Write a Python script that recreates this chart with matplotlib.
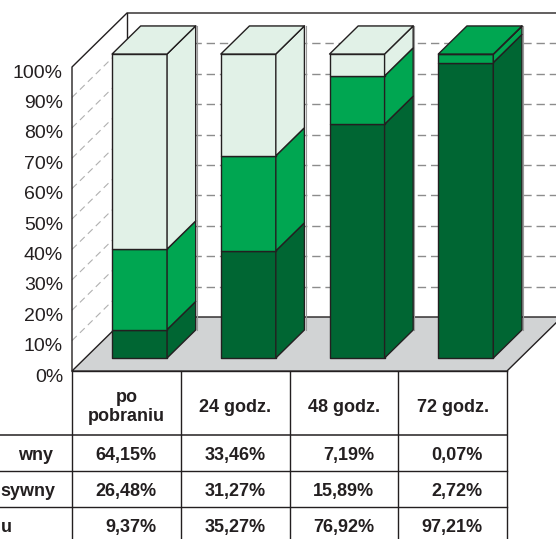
import matplotlib.pyplot as plt
from matplotlib.patches import Polygon

plt.rcParams['font.family'] = ['Liberation Sans', 'DejaVu Sans']

# data (rows of the table, top row = top of the stack)
categories = ["po\npobraniu", "24 godz.", "48 godz.", "72 godz."]
row_labels = ["wny", "sywny", "u"]          # row names, cut off at the left edge
row1 = [64.15, 33.46, 7.19, 0.07]
row2 = [26.48, 31.27, 15.89, 2.72]
row3 = [9.37, 35.27, 76.92, 97.21]
ticks = list(range(0, 101, 10))

# bottom to top stacking
stack = [row3, row2, row1]
colors = ["#006633", "#00a651", "#e1f1e7"]
table_rows = [row1, row2, row3]

# layout (pixels)
X0, X1 = 72, 507
Y0, H = 371, 304
DX, DY = 55, -54
COLW = (X1 - X0) / len(categories)
BARW = 55
D0, D1 = 0.24, 0.76
EDGE = "#231f20"


def proj(x, pct, d=0.0):
    return (x + d * DX, Y0 - pct / 100 * H + d * DY)


fig = plt.figure(figsize=(5.56, 5.39), dpi=100)
ax = fig.add_axes([0, 0, 1, 1])
ax.set_xlim(0, 556)
ax.set_ylim(539, 0)
ax.axis("off")

# walls
ax.add_patch(Polygon([proj(X0, 0, 0), proj(X0, 100, 0), proj(X0, 100, 1), proj(X0, 0, 1)],
                     closed=True, fc="white", ec="none", zorder=1))
for t in ticks[1:-1]:
    a, b = proj(X0, t, 0), proj(X0, t, 1)
    ax.plot([a[0], b[0]], [a[1], b[1]], color="#b0b0b0", lw=0.8, ls=(0, (6, 4)), zorder=2)
    c, e = proj(X0, t, 1), proj(X1 + 60, t, 1)
    ax.plot([c[0], e[0]], [c[1], e[1]], color="#8c8c8c", lw=1.0, ls=(0, (6, 3.5)), zorder=2)

# wall outlines
p = [proj(X0, 0, 0), proj(X0, 100, 0), proj(X0, 100, 1), proj(X1 + 60, 100, 1)]
ax.plot([q[0] for q in p], [q[1] for q in p], color=EDGE, lw=1.0, zorder=3)
a, b = proj(X0, 100, 1), proj(X0, 0, 1)
ax.plot([a[0], b[0]], [a[1], b[1]], color=EDGE, lw=1.0, zorder=3)

# floor
floor = [proj(X0, 0, 0), proj(X1, 0, 0), proj(X1, 0, 1), proj(X0, 0, 1)]
ax.add_patch(Polygon(floor, closed=True, fc="#d1d3d4", ec=EDGE, lw=1.0, zorder=4))
fr = [proj(X1, 0, 1), proj(X1 + 60, 0, 1)]
ax.plot([fr[0][0], fr[1][0]], [fr[0][1], fr[1][1]], color=EDGE, lw=1.0, zorder=4)

# tick labels
for t in ticks:
    x, y = proj(X0, t, 0)
    ax.text(x - 9, y + 6, f"{t}%", ha="right", va="center", fontsize=14, color=EDGE)

# bars
for i in range(len(categories)):
    cx = X0 + (i + 0.5) * COLW
    xl, xr = cx - BARW / 2, cx + BARW / 2
    lo = 0.0
    top_color = colors[0]
    for vals, col in zip(stack, colors):
        hi = lo + vals[i]
        if vals[i] >= 1:
            top_color = col
        front = [proj(xl, lo, D0), proj(xr, lo, D0), proj(xr, hi, D0), proj(xl, hi, D0)]
        side = [proj(xr, lo, D0), proj(xr, lo, D1), proj(xr, hi, D1), proj(xr, hi, D0)]
        for poly in (front, side):
            ax.add_patch(Polygon(poly, closed=True, fc=col, ec=EDGE, lw=1.0,
                                 joinstyle="round", zorder=5 + i))
        lo = hi
    top = [proj(xl, lo, D0), proj(xr, lo, D0), proj(xr, lo, D1), proj(xl, lo, D1)]
    ax.add_patch(Polygon(top, closed=True, fc=top_color, ec=EDGE, lw=1.0,
                         joinstyle="round", zorder=5 + i))
    # faint grey halo on the outer right edge
    halo = [proj(xr, lo, D1), proj(xr, 0, D1)]
    ax.plot([halo[0][0] + 1.2, halo[1][0] + 1.2], [halo[0][1], halo[1][1]],
            color="#9a9a9a", lw=0.8, zorder=4.5)

# table
HEAD_H, ROW_H = 64, 36
y_lines = [Y0, Y0 + HEAD_H] + [Y0 + HEAD_H + ROW_H * (k + 1) for k in range(len(table_rows) - 1)]
for k, y in enumerate(y_lines):
    ax.plot([0 if k > 0 else X0, X1], [y, y], color=EDGE, lw=1.1 if k == 1 else 1.0, zorder=3)
for j in range(len(categories) + 1):
    x = X0 + j * COLW
    ax.plot([x, x], [Y0, 539], color=EDGE, lw=1.0, zorder=3)

for j, cat in enumerate(categories):
    ax.text(X0 + (j + 0.5) * COLW, Y0 + HEAD_H / 2 + 4, cat, ha="center", va="center",
            fontsize=13, fontweight="bold", color=EDGE, linespacing=1.2)

label_x = [53, 55, 1]
label_ha = ["right", "right", "left"]
for r, (vals, name) in enumerate(zip(table_rows, row_labels)):
    yc = Y0 + HEAD_H + ROW_H * (r + 0.5) + 2.5
    ax.text(label_x[r], yc, name, ha=label_ha[r], va="center", fontsize=13,
            fontweight="bold", color=EDGE)
    for j, v in enumerate(vals):
        s = f"{v:.2f}%".replace(".", ",")
        ax.text(X0 + (j + 1) * COLW - 24, yc, s, ha="right", va="center",
                fontsize=13, fontweight="bold", color=EDGE)

fig.savefig("out.png", dpi=100)
